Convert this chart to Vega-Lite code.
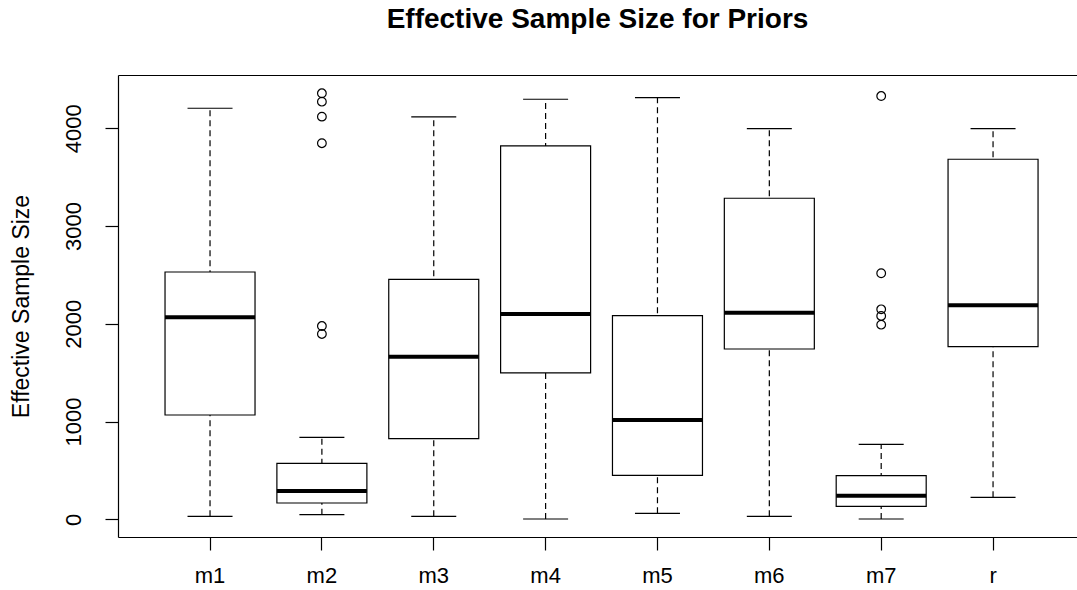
{
  "$schema": "https://vega.github.io/schema/vega-lite/v6.json",
  "autosize": {"type": "none"},
  "padding": {"left": 118, "top": 75, "right": 0, "bottom": 53},
  "width": 959,
  "height": 462,
  "background": "white",
  "title": {
    "text": "Effective Sample Size for Priors",
    "font": "Liberation Sans",
    "fontSize": 28,
    "fontWeight": "bold",
    "color": "black",
    "anchor": "middle",
    "baseline": "alphabetic",
    "offset": 19
  },
  "config": {
    "view": {"stroke": null},
    "axis": {
      "domainColor": "black",
      "tickColor": "black",
      "labelColor": "black",
      "titleColor": "black",
      "labelFont": "Liberation Sans",
      "titleFont": "Liberation Sans",
      "domainWidth": 1.2,
      "tickWidth": 1.2,
      "grid": false
    }
  },
  "datasets": {
    "stats": [
      {"group": "m1", "lower": 31, "q1": 1067, "median": 2066, "q3": 2530, "upper": 4205},
      {"group": "m2", "lower": 47, "q1": 167, "median": 290, "q3": 573, "upper": 839},
      {"group": "m3", "lower": 31, "q1": 825, "median": 1664, "q3": 2455, "upper": 4116},
      {"group": "m4", "lower": 3, "q1": 1498, "median": 2100, "q3": 3819, "upper": 4297},
      {"group": "m5", "lower": 61, "q1": 450, "median": 1016, "q3": 2083, "upper": 4313},
      {"group": "m6", "lower": 31, "q1": 1742, "median": 2114, "q3": 3284, "upper": 3996},
      {"group": "m7", "lower": 3, "q1": 133, "median": 242, "q3": 446, "upper": 767},
      {"group": "r", "lower": 225, "q1": 1766, "median": 2189, "q3": 3683, "upper": 3996}
    ],
    "outliers": [
      {"group": "m2", "value": 4358},
      {"group": "m2", "value": 4272},
      {"group": "m2", "value": 4119},
      {"group": "m2", "value": 3847},
      {"group": "m2", "value": 1977},
      {"group": "m2", "value": 1896},
      {"group": "m7", "value": 4330},
      {"group": "m7", "value": 2517},
      {"group": "m7", "value": 2148},
      {"group": "m7", "value": 2080},
      {"group": "m7", "value": 1991}
    ]
  },
  "resolve": {"axis": {"x": "independent"}},
  "layer": [
    {
      "data": {"name": "stats"},
      "mark": {"type": "rule", "color": "black", "strokeWidth": 1.2, "strokeDash": [6, 4]},
      "encoding": {
        "x": {
          "field": "group", "type": "nominal", "sort": null,
          "scale": {"type": "band", "domain": ["m1", "m2", "m3", "m4", "m5", "m6", "m7", "r"], "paddingInner": 0, "paddingOuter": 0.2866, "align": 0.563},
          "axis": {"orient": "bottom", "title": null, "labelAngle": 0, "labelFontSize": 22, "tickSize": 13, "labelPadding": 15, "domain": true}
        },
        "y": {
          "field": "lower", "type": "quantitative",
          "scale": {"domain": [-181, 4545], "nice": false, "zero": false},
          "axis": {"title": "Effective Sample Size", "titleFontSize": 23, "titleFontWeight": "normal", "titleX": -90, "titleBaseline": "alphabetic", "values": [0, 1000, 2000, 3000, 4000], "format": "d", "labelAngle": -90, "labelAlign": "center", "labelBaseline": "alphabetic", "labelFontSize": 22, "tickSize": 13, "labelPadding": 25, "domain": true}
        },
        "y2": {"field": "upper"}
      }
    },
    {
      "data": {"name": "stats"},
      "mark": {"type": "tick", "color": "black", "opacity": 1, "size": 45, "thickness": 1.2},
      "encoding": {
        "x": {"field": "group", "type": "nominal", "sort": null, "axis": {"orient": "top", "title": null, "labels": false, "ticks": false, "domain": true}},
        "y": {"field": "upper", "type": "quantitative"}
      }
    },
    {
      "data": {"name": "stats"},
      "mark": {"type": "tick", "color": "black", "opacity": 1, "size": 45, "thickness": 1.2},
      "encoding": {
        "x": {"field": "group", "type": "nominal", "sort": null, "axis": null},
        "y": {"field": "lower", "type": "quantitative"}
      }
    },
    {
      "data": {"name": "stats"},
      "mark": {"type": "bar", "fill": "white", "stroke": "black", "opacity": 1, "strokeWidth": 1.2, "size": 90},
      "encoding": {
        "x": {"field": "group", "type": "nominal", "sort": null, "axis": null},
        "y": {"field": "q1", "type": "quantitative"},
        "y2": {"field": "q3"}
      }
    },
    {
      "data": {"name": "stats"},
      "mark": {"type": "tick", "color": "black", "opacity": 1, "size": 90, "thickness": 4},
      "encoding": {
        "x": {"field": "group", "type": "nominal", "sort": null, "axis": null},
        "y": {"field": "median", "type": "quantitative"}
      }
    },
    {
      "data": {"name": "outliers"},
      "mark": {"type": "point", "shape": "circle", "filled": false, "color": "black", "opacity": 1, "size": 75, "strokeWidth": 1.2},
      "encoding": {
        "x": {"field": "group", "type": "nominal", "sort": null, "axis": null},
        "y": {"field": "value", "type": "quantitative"}
      }
    }
  ]
}
